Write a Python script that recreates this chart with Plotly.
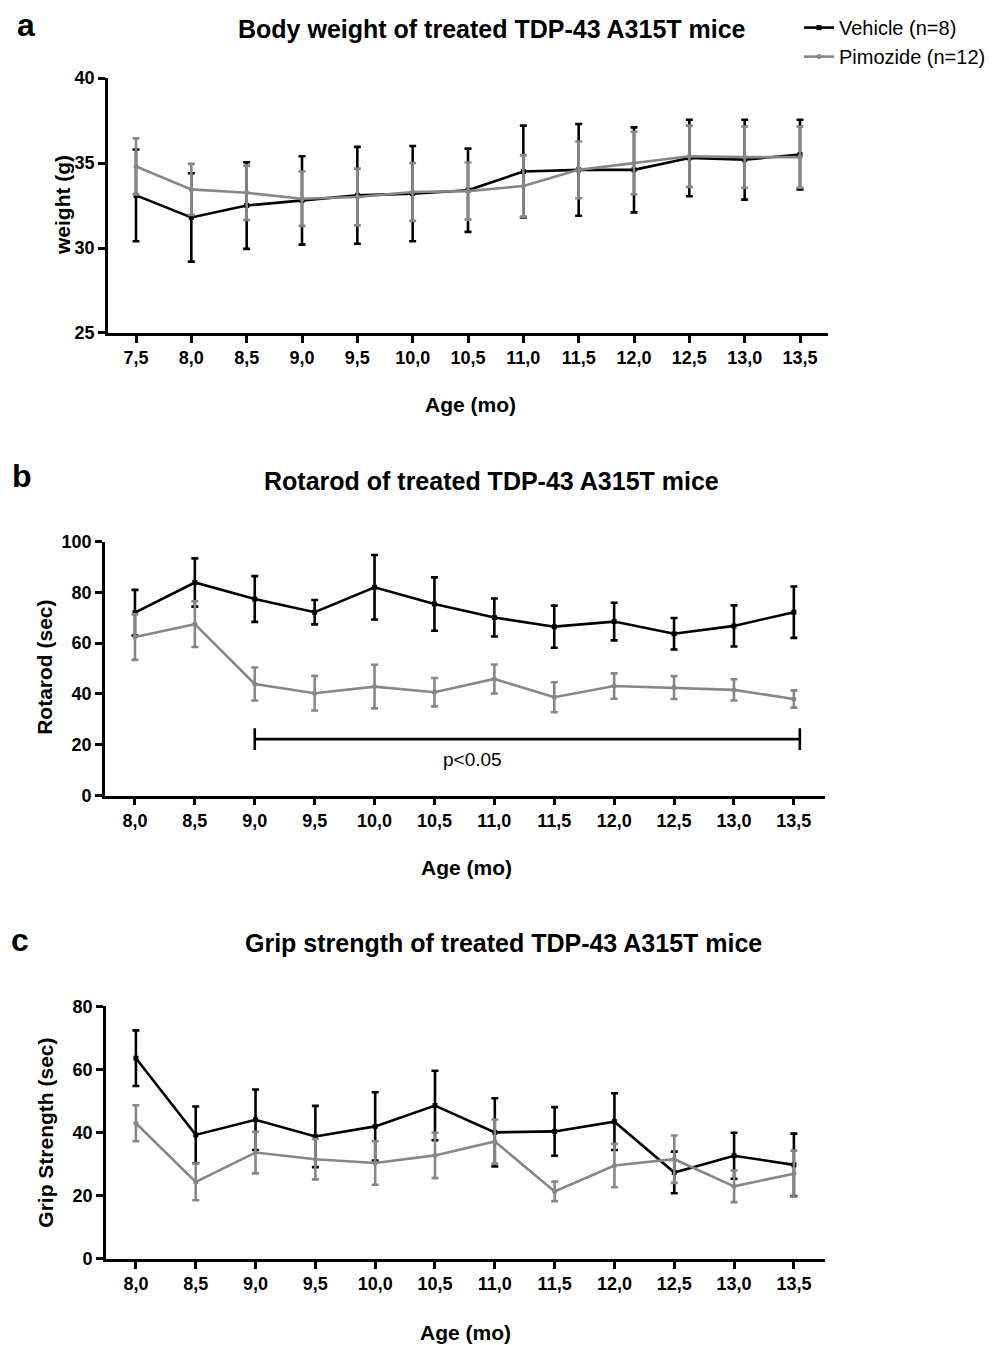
import plotly.graph_objects as go

# ---------------- DATA ----------------
ages_a = [7.5, 8.0, 8.5, 9.0, 9.5, 10.0, 10.5, 11.0, 11.5, 12.0, 12.5, 13.0, 13.5]
ages_bc = [8.0, 8.5, 9.0, 9.5, 10.0, 10.5, 11.0, 11.5, 12.0, 12.5, 13.0, 13.5]

# Panel a: body weight (g)
weight_vehicle = [33.1, 31.8, 32.5, 32.8, 33.1, 33.2, 33.4, 34.5, 34.6, 34.6, 35.3, 35.2, 35.5]
weight_vehicle_err = [2.7, 2.6, 2.55, 2.6, 2.85, 2.8, 2.45, 2.7, 2.7, 2.5, 2.25, 2.35, 2.05]
weight_pimozide = [34.8, 33.45, 33.25, 32.9, 33.0, 33.3, 33.35, 33.65, 34.6, 35.0, 35.4, 35.35, 35.35]
weight_pimozide_err = [1.65, 1.5, 1.6, 1.6, 1.67, 1.7, 1.68, 1.8, 1.67, 1.84, 1.8, 1.8, 1.8]

# Panel b: rotarod (sec)
rota_vehicle = [72.0, 83.9, 77.4, 72.2, 82.0, 75.4, 70.1, 66.5, 68.5, 63.7, 66.8, 72.2]
rota_vehicle_err = [9.0, 9.5, 9.0, 4.8, 12.7, 10.5, 7.5, 8.3, 7.4, 6.2, 8.1, 10.1]
rota_pimozide = [62.4, 67.5, 43.9, 40.3, 42.9, 40.7, 45.9, 38.7, 43.1, 42.5, 41.6, 38.0]
rota_pimozide_err = [9.0, 9.0, 6.5, 6.8, 8.6, 5.6, 5.7, 5.9, 5.0, 4.5, 4.2, 3.4]

# Panel c: grip strength (sec)
grip_vehicle = [63.6, 39.3, 44.1, 38.8, 42.0, 48.6, 40.1, 40.4, 43.5, 27.4, 32.7, 29.8]
grip_vehicle_err = [8.8, 9.0, 9.6, 9.7, 10.8, 11.0, 10.8, 7.7, 9.0, 6.6, 7.3, 9.9]
grip_pimozide = [43.0, 24.4, 33.7, 31.6, 30.4, 32.8, 37.2, 21.4, 29.6, 31.6, 23.0, 27.0]
grip_pimozide_err = [5.7, 5.8, 6.6, 6.4, 6.9, 7.2, 7.0, 3.1, 6.9, 7.5, 5.0, 7.3]

ticks_a = ages_a
ticktext_a = ["7,5", "8,0", "8,5", "9,0", "9,5", "10,0", "10,5", "11,0", "11,5", "12,0", "12,5", "13,0", "13,5"]
ticks_bc = ages_bc
ticktext_bc = ["8,0", "8,5", "9,0", "9,5", "10,0", "10,5", "11,0", "11,5", "12,0", "12,5", "13,0", "13,5"]
yticks_a = [25, 30, 35, 40]
yticks_b = [0, 20, 40, 60, 80, 100]
yticks_c = [0, 20, 40, 60, 80]

series_names = ["Vehicle (n=8)", "Pimozide (n=12)"]

# significance bar on rotarod panel
sig_start, sig_end, sig_y, sig_cap = 9.0, 13.55, 22.2, 4.3
sig_label = "p<0.05"
sig_label_x, sig_label_y = 10.82, 14.0

# ---------------- STYLE ----------------
W, H = 987, 1345
OX = 8                 # horizontal offset of the figure on the page
OY, SY = 17.9, 0.9855  # measured vertical placement of the figure in the screenshot
FONT = "Liberation Sans, Arial, sans-serif"
BLACK = "#000000"
GRAY = "#878787"

def px(x):
    return (x - OX) / W

def py(y):
    return 1 - ((y - OY) / SY) / H

fig = go.Figure()

def add_series(xs, ys, errs, color, symbol, name, xa, ya, show):
    fig.add_trace(go.Scatter(
        x=xs, y=ys, mode="lines+markers", name=name,
        line=dict(color=color, width=2.6),
        marker=dict(color=color, size=5, symbol=symbol),
        error_y=dict(type="data", array=errs, visible=True, color=color,
                     thickness=2.6, width=3.5),
        xaxis=xa, yaxis=ya, showlegend=show, legendgroup=name,
        hoverinfo="skip",
    ))

add_series(ages_a, weight_vehicle, weight_vehicle_err, BLACK, "square", series_names[0], "x", "y", True)
add_series(ages_a, weight_pimozide, weight_pimozide_err, GRAY, "circle", series_names[1], "x", "y", True)
add_series(ages_bc, rota_vehicle, rota_vehicle_err, BLACK, "square", series_names[0], "x2", "y2", False)
add_series(ages_bc, rota_pimozide, rota_pimozide_err, GRAY, "circle", series_names[1], "x2", "y2", False)
add_series(ages_bc, grip_vehicle, grip_vehicle_err, BLACK, "square", series_names[0], "x3", "y3", False)
add_series(ages_bc, grip_pimozide, grip_pimozide_err, GRAY, "circle", series_names[1], "x3", "y3", False)

tickfont = dict(family=FONT, size=18, color="black", weight="bold")

def xaxis(domain, rng, anchor, tv, tt):
    return dict(domain=domain, range=rng, anchor=anchor, showline=True, linecolor="black",
                linewidth=2.6, ticks="outside", ticklen=7, tickwidth=2.6, tickcolor="black",
                tickvals=tv, ticktext=tt, tickfont=tickfont, showgrid=False, zeroline=False,
                fixedrange=True)

def yaxis(domain, rng, anchor, tv):
    return dict(domain=domain, range=rng, anchor=anchor, showline=True, linecolor="black",
                linewidth=2.6, ticks="outside", ticklen=7, tickwidth=2.6, tickcolor="black",
                tickvals=tv, tickfont=tickfont, showgrid=False, zeroline=False, fixedrange=True)

fig.update_layout(
    width=W, height=H,
    margin=dict(l=0, r=0, t=0, b=0),
    paper_bgcolor="white", plot_bgcolor="white",
    font=dict(family=FONT, color="black"),
    xaxis=xaxis([px(108), px(828)], [7.247, 13.753], "y", ticks_a, ticktext_a),
    yaxis=yaxis([py(333), py(78)], [25, 40], "x", yticks_a),
    xaxis2=xaxis([px(105), px(825)], [7.75, 13.76], "y2", ticks_bc, ticktext_bc),
    yaxis2=yaxis([py(795.7), py(541.7)], [0, 100], "x2", yticks_b),
    xaxis3=xaxis([px(106), px(825)], [7.75, 13.76], "y3", ticks_bc, ticktext_bc),
    yaxis3=yaxis([py(1259.3), py(1006.7)], [0, 80], "x3", yticks_c),
    legend=dict(x=px(799), y=py(8), xanchor="left", yanchor="top",
                font=dict(family=FONT, size=20, color="black"),
                bgcolor="rgba(0,0,0,0)", tracegroupgap=0, itemwidth=30),
    showlegend=True,
)

# significance bar (data coordinates of panel b)
fig.add_shape(type="line", xref="x2", yref="y2", x0=sig_start, x1=sig_end, y0=sig_y, y1=sig_y,
              line=dict(color="black", width=2.6))
for xv in (sig_start, sig_end):
    fig.add_shape(type="line", xref="x2", yref="y2", x0=xv, x1=xv,
                  y0=sig_y - sig_cap, y1=sig_y + sig_cap, line=dict(color="black", width=2.6))
fig.add_annotation(x=sig_label_x, y=sig_label_y, xref="x2", yref="y2", text=sig_label,
                   showarrow=False, font=dict(family=FONT, size=19, color="black"),
                   xanchor="center", yanchor="middle")

def ann(text, x, y, size, bold=True, angle=0):
    fig.add_annotation(x=px(x), y=py(y), xref="paper", yref="paper", text=text,
                       showarrow=False, textangle=angle, xanchor="center", yanchor="middle",
                       font=dict(family=FONT, size=size, color="black",
                                 weight="bold" if bold else "normal"))

# panel letters
ann("a", 26, 25, 32)
ann("b", 22, 476, 32)
ann("c", 20, 940, 32)
# titles
ann("Body weight of treated TDP-43 A315T mice", 492, 29, 25)
ann("Rotarod of treated TDP-43 A315T mice", 491, 481, 25)
ann("Grip strength of treated TDP-43 A315T mice", 503, 943, 25)
# x-axis titles
ann("Age (mo)", 470, 405, 21)
ann("Age (mo)", 466, 868, 21)
ann("Age (mo)", 465, 1333, 21)
# y-axis titles
ann("weight (g)", 62, 205, 21, angle=-90)
ann("Rotarod (sec)", 45, 668, 21, angle=-90)
ann("Grip Strength (sec)", 46, 1133, 21, angle=-90)

fig.write_html("out.html", config={"displayModeBar": False})
